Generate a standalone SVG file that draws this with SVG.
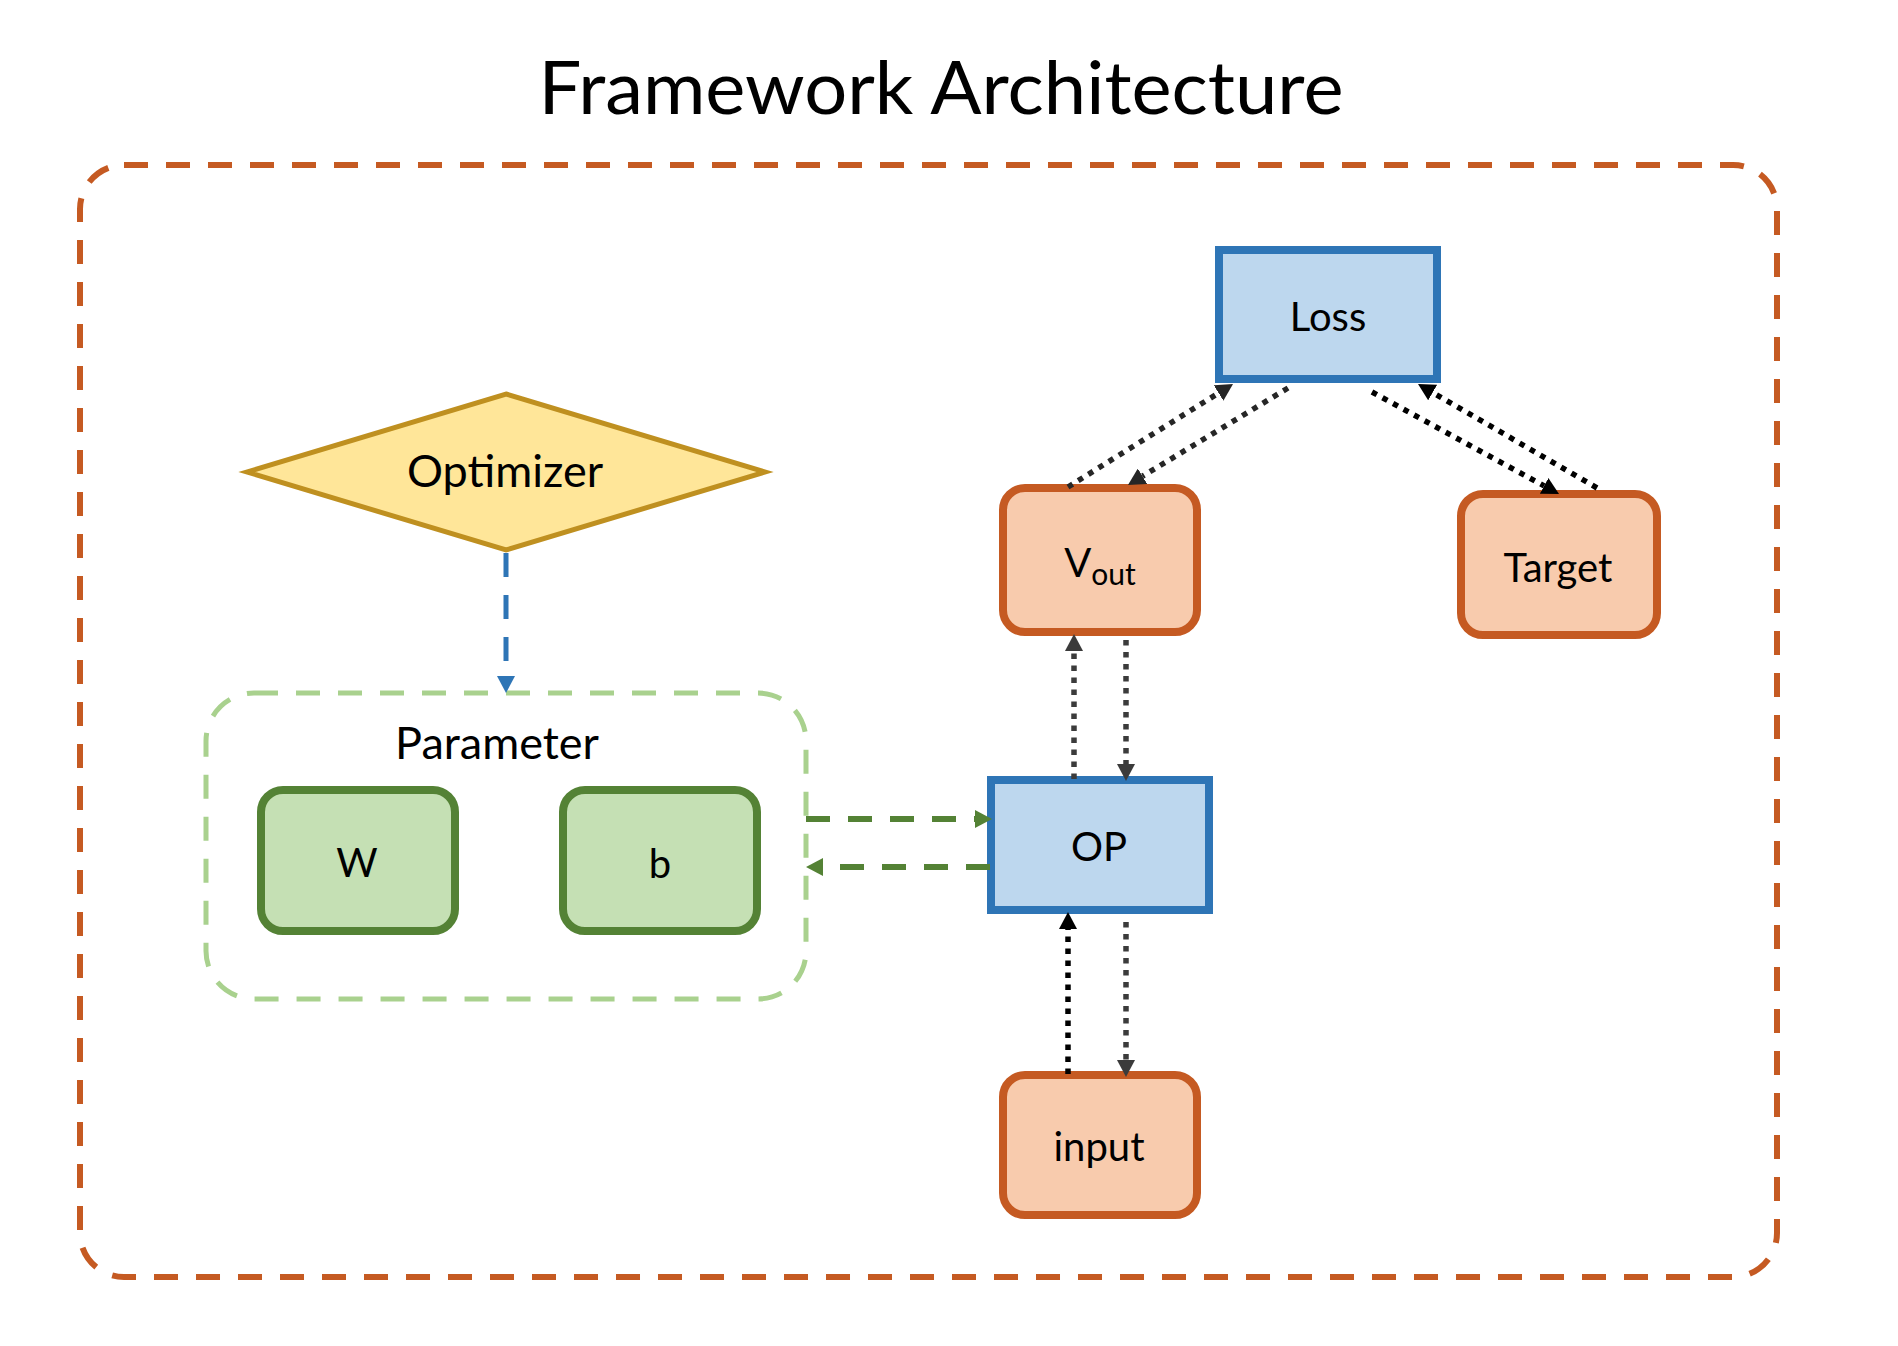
<svg xmlns="http://www.w3.org/2000/svg" width="1898" height="1346" viewBox="0 0 1898 1346">
<defs>
<style>
text{font-family:Lato,"Open Sans","Liberation Sans",sans-serif;fill:#000;}
.lbl{font-size:40px;text-anchor:middle;}
.big{font-size:45px;text-anchor:middle;}
.orange rect{fill:#F8CBAD;stroke:#C55A22;stroke-width:8;}
.blue rect{fill:#BDD7EE;stroke:#2E75B6;stroke-width:8;}
.green rect{fill:#C5E0B4;stroke:#548235;stroke-width:8;}
.dot{fill:none;stroke-width:5.5;stroke-dasharray:5.5 6.5;}
.gdash{fill:none;stroke:#548235;stroke-width:6;stroke-dasharray:24 18;}
.bdash{fill:none;stroke:#2E75B6;stroke-width:5;stroke-dasharray:24 18;}
</style>
<marker id="mBlack" markerUnits="userSpaceOnUse" markerWidth="17" markerHeight="18" refX="0" refY="9" orient="auto"><path d="M0,0 L17,9 L0,18 z" fill="#000"/></marker>
<marker id="mDark" markerUnits="userSpaceOnUse" markerWidth="17" markerHeight="18" refX="0" refY="9" orient="auto"><path d="M0,0 L17,9 L0,18 z" fill="#262626"/></marker>
<marker id="mGray" markerUnits="userSpaceOnUse" markerWidth="17" markerHeight="18" refX="0" refY="9" orient="auto"><path d="M0,0 L17,9 L0,18 z" fill="#3B3B3B"/></marker>
<marker id="mGreen" markerUnits="userSpaceOnUse" markerWidth="17" markerHeight="18" refX="0" refY="9" orient="auto"><path d="M0,0 L17,9 L0,18 z" fill="#548235"/></marker>
<marker id="mBlue" markerUnits="userSpaceOnUse" markerWidth="17" markerHeight="18" refX="0" refY="9" orient="auto"><path d="M0,0 L17,9 L0,18 z" fill="#2E75B6"/></marker>
</defs>
<rect width="1898" height="1346" fill="#fff"/>
<text id="title" x="941" y="114" style="font-size:73px;text-anchor:middle;" textLength="805" lengthAdjust="spacingAndGlyphs">Framework Architecture</text>
<g id="framework">
<rect x="80" y="165" width="1697" height="1112" rx="44" fill="none" stroke="#C55A22" stroke-width="6" stroke-dasharray="24 18"/>
</g>
<g id="parameter">
<rect x="206" y="693" width="600" height="306" rx="48" fill="none" stroke="#A9D18E" stroke-width="5" stroke-dasharray="24 18"/>
<text class="big" x="497" y="759">Parameter</text>
</g>
<g id="optimizer">
<polygon points="506,394 765,472 506,550 247,472" fill="#FFE699" stroke="#BF9020" stroke-width="5"/>
<text class="big" x="505" y="487">Optimizer</text>
</g>
<g id="W" class="green">
<rect x="261" y="790" width="194" height="141" rx="22"/>
<text class="lbl" x="357" y="877">W</text>
</g>
<g id="b" class="green">
<rect x="563" y="790" width="194" height="141" rx="22"/>
<text class="lbl" x="660" y="878">b</text>
</g>
<g id="loss" class="blue">
<rect x="1219" y="250" width="218" height="129"/>
<text class="lbl" x="1328" y="331">Loss</text>
</g>
<g id="vout" class="orange">
<rect x="1003" y="488" width="194" height="144" rx="22"/>
<text class="lbl" x="1100" y="577">V<tspan font-size="30" dy="8">out</tspan></text>
</g>
<g id="target" class="orange">
<rect x="1461" y="494" width="196" height="141" rx="22"/>
<text class="lbl" x="1558" y="582">Target</text>
</g>
<g id="op" class="blue">
<rect x="991" y="780" width="218" height="130"/>
<text class="lbl" x="1099" y="861">OP</text>
</g>
<g id="input" class="orange">
<rect x="1003" y="1075" width="194" height="140" rx="22"/>
<text class="lbl" x="1099" y="1161">input</text>
</g>
<g id="connectors">
<line class="bdash" x1="506" y1="553" x2="506" y2="676" marker-end="url(#mBlue)"/>
<line class="gdash" x1="806" y1="819" x2="975" y2="819" marker-end="url(#mGreen)"/>
<line class="gdash" x1="990" y1="867" x2="823" y2="867" marker-end="url(#mGreen)"/>
<line class="dot" stroke="#3B3B3B" x1="1074" y1="779" x2="1074" y2="651" marker-end="url(#mGray)"/>
<line class="dot" stroke="#3B3B3B" x1="1126" y1="640" x2="1126" y2="764" marker-end="url(#mGray)"/>
<line class="dot" stroke="#000" x1="1068" y1="1074" x2="1068" y2="929" marker-end="url(#mBlack)"/>
<line class="dot" stroke="#3B3B3B" x1="1126" y1="922" x2="1126" y2="1060" marker-end="url(#mGray)"/>
<line class="dot" stroke="#262626" x1="1068" y1="487" x2="1218.6" y2="393" marker-end="url(#mDark)"/>
<line class="dot" stroke="#262626" x1="1288" y1="388" x2="1142.5" y2="476.2" marker-end="url(#mDark)"/>
<line class="dot" stroke="#000" x1="1372" y1="392" x2="1544.1" y2="485.9" marker-end="url(#mBlack)"/>
<line class="dot" stroke="#000" x1="1597" y1="488" x2="1432.7" y2="392.5" marker-end="url(#mBlack)"/>
</g>
</svg>
